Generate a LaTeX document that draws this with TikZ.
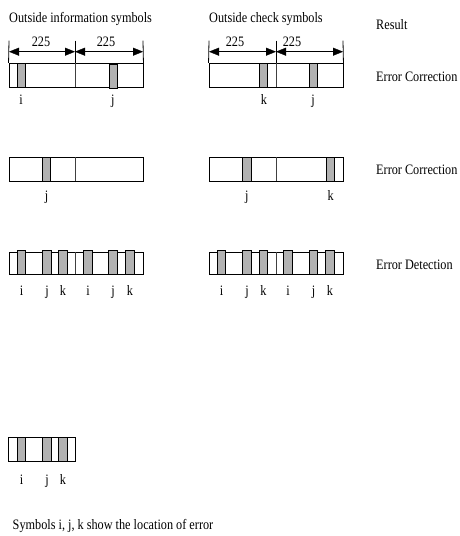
\documentclass[tikz,border=0pt]{standalone}
\usepackage{fontspec}
\setmainfont{Liberation Serif}[FakeStretch=0.85]
\usetikzlibrary{arrows.meta}
\begin{document}
\begin{tikzpicture}[x=1pt,y=-1pt,
  txt/.style={anchor=base west,inner sep=0pt,font=\fontsize{14.4}{16}\selectfont},
  lbl/.style={anchor=base,inner sep=0pt,font=\fontsize{14.4}{16}\selectfont},
  bar/.style={draw=black,line width=0.9pt,inner sep=0pt,minimum height=24pt},
  errblk/.style={draw=black,line width=0.9pt,fill=black!30,inner sep=0pt,minimum width=8.4pt,minimum height=24pt},
  divline/.style={draw=black!75,line width=0.9pt},
  tick/.style={draw=black,line width=0.8pt},
  dimarrow/.style={draw=black,line width=0.9pt,{Triangle[length=10pt,width=8pt,fill=black,line width=0.4pt]}-{Triangle[length=10pt,width=8pt,fill=black,line width=0.4pt]}},
]
\useasboundingbox (0,0) rectangle (460,536);

% headings and results
\node[txt] (t1) at (9,22.7) {Outside information symbols};
\node[txt] (t2) at (209,22.7) {Outside check symbols};
\node[txt] (t3) at (376,29) {Result};
\node[txt] (r1) at (376,81.7) {Error Correction};
\node[txt] (r2) at (376,174) {Error Correction};
\node[txt] (r3) at (376,269) {Error Detection};
\node[txt] (note) at (12.5,529) {Symbols i, j, k show the location of error};

% ---------- row 1 ----------
\node[bar,minimum width=134pt] (b1l) at (76,75.3) {};
\node[bar,minimum width=134pt] (b1r) at (276,75.3) {};
\coordinate (m1l) at (75,63.3); \coordinate (m1lb) at (75,87.3);
\coordinate (m1r) at (276,63.3); \coordinate (m1rb) at (276,87.3);
\draw[divline] (m1l) -- (m1lb);
\draw[divline] (m1r) -- (m1rb);
\node[errblk] (e1i) at (21.5,75.3) {};
\node[errblk] (e1j) at (113.3,76.3) {};
\node[errblk] (e1k) at (263.5,75.3) {};
\node[errblk] (e1j2) at (313.5,75.3) {};
\node[lbl] (l1i) at (21,104) {i};
\node[lbl] (l1j) at (112.7,104) {j};
\node[lbl] (l1k) at (264,104) {k};
\node[lbl] (l1j2) at (313,104) {j};

% dimension lines
\coordinate (d1a) at (9,40.7);   \coordinate (d1b) at (75,40.7);  \coordinate (d1c) at (143,40.7);
\coordinate (d2a) at (209,40.7); \coordinate (d2b) at (276,40.7); \coordinate (d2c) at (343,40.7);
\coordinate (a1a) at (9,51.7);   \coordinate (a1b) at (75,51.7);  \coordinate (a1c) at (143,51.7);
\coordinate (a2a) at (209,51.7); \coordinate (a2b) at (276,51.7); \coordinate (a2c) at (343,51.7);
\draw[tick] (d1a) -- (b1l.north west);
\draw[tick] (d1b) -- (m1l);
\draw[tick] (d1c) -- (b1l.north east);
\draw[tick] (d2a) -- (b1r.north west);
\draw[tick] (d2b) -- (m1r);
\draw[tick] (d2c) -- (b1r.north east);
\draw[dimarrow] (a1a) -- (a1b);
\draw[dimarrow] (a1b) -- (a1c);
\draw[dimarrow] (a2a) -- (a2b);
\draw[dimarrow] (a2b) -- (a2c);
\node[lbl] (n1) at (41,46.5) {225};
\node[lbl] (n2) at (106,46.5) {225};
\node[lbl] (n3) at (235,46.5) {225};
\node[lbl] (n4) at (292,46.5) {225};

% ---------- row 2 ----------
\node[bar,minimum width=134pt] (b2l) at (76,169) {};
\node[bar,minimum width=134pt] (b2r) at (276,169) {};
\coordinate (m2l) at (75,157); \coordinate (m2lb) at (75,181);
\coordinate (m2r) at (276,157); \coordinate (m2rb) at (276,181);
\draw[divline] (m2l) -- (m2lb);
\draw[divline] (m2r) -- (m2rb);
\node[errblk] (e2j) at (46.7,169) {};
\node[errblk] (e2j2) at (247,169) {};
\node[errblk] (e2k) at (330.5,169) {};
\node[lbl] (l2j) at (46.7,200.5) {j};
\node[lbl] (l2j2) at (246.7,200.5) {j};
\node[lbl] (l2k) at (330.7,200.5) {k};

% ---------- row 3 ----------
\node[bar,minimum width=134pt,minimum height=22pt] (b3l) at (76,263) {};
\node[bar,minimum width=134pt,minimum height=22pt] (b3r) at (276,263) {};
\coordinate (m3l) at (75,252); \coordinate (m3lb) at (75,274);
\coordinate (m3r) at (276,252); \coordinate (m3rb) at (276,274);
\draw[divline] (m3l) -- (m3lb);
\draw[divline] (m3r) -- (m3rb);
\foreach \n/\x/\t in {1/21.5/i,2/47/j,3/63/k,4/88/i,5/113/j,6/130/k}{
  \node[errblk] (e3l\n) at (\x,262) {};
  \node[lbl] (l3l\n) at (\x,295) {\t};
}
\foreach \n/\x/\t in {1/221.5/i,2/247/j,3/263.5/k,4/288/i,5/313.5/j,6/330/k}{
  \node[errblk] (e3r\n) at (\x,262) {};
  \node[lbl] (l3r\n) at (\x,295) {\t};
}

% ---------- row 4 ----------
\node[bar,minimum width=67pt] (b4) at (41.8,449) {};
\foreach \n/\x/\t in {1/21.5/i,2/47/j,3/63/k}{
  \node[errblk] (e4\n) at (\x,449) {};
  \node[lbl] (l4\n) at (\x,484) {\t};
}
\end{tikzpicture}
\end{document}
